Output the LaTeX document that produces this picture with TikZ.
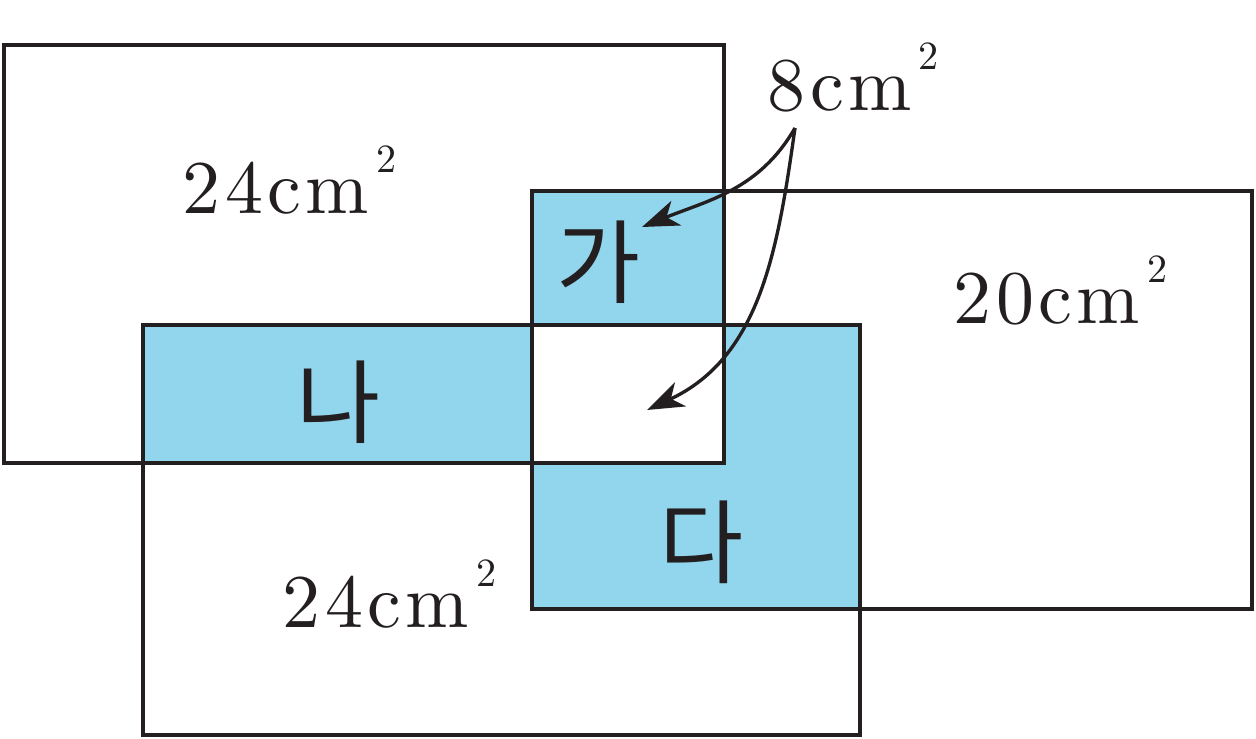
\documentclass[tikz,border=0pt]{standalone}
\usepackage{fontspec}
\newfontfamily\kofont{Noto Sans CJK KR}
\newfontfamily\numfont{lmroman10-regular.otf}[LetterSpace=6]
\usetikzlibrary{arrows.meta}
\definecolor{ink}{RGB}{35,31,32}
\definecolor{cellblue}{RGB}{146,214,237}
\newcommand{\cmsq}{cm\hspace{0.07cm}\raisebox{0.4cm}{\fontsize{11.4}{12}\selectfont 2}}
\begin{document}
\begin{tikzpicture}[x=0.01cm, y=-0.01cm,
    box/.style={draw=ink, line width=1.28pt},
    area/.style={inner sep=0pt, anchor=base west, text=ink,
      font=\numfont\fontsize{21.6}{26}\selectfont},
    cell/.style={inner sep=0pt, text=ink, font=\fontsize{26}{30}\selectfont\kofont},
    pointer/.style={draw=ink, line width=0.95pt, -{Stealth[length=10.5pt,width=7.5pt,inset=3pt]}}]
    \useasboundingbox (0,0) rectangle (1256,739);

    % shaded parts
    \fill[cellblue] (532,191) rectangle (724,325);
    \fill[cellblue] (143,325) rectangle (532,463);
    \fill[cellblue] (532,463) rectangle (860,609);
    \fill[cellblue] (724,325) rectangle (860,463);

    % three rectangles
    \draw[box] (4,45)    rectangle (724,463);
    \draw[box] (532,191) rectangle (1252,609);
    \draw[box] (143,325) rectangle (860,735);

    \node[area] (a1) at (182,213) {24\cmsq};
    \node[area] (a2) at (953,323) {20\cmsq};
    \node[area] (a3) at (282,627) {24\cmsq};
    \node[area] (a8) at (767,110) {8\cmsq};

    \node[cell] (ga) at (599,262) {가};
    \node[cell] (na) at (339,402) {나};
    \node[cell] (da) at (702,542) {다};

    \coordinate (src) at (795,128);
    \coordinate (t1)  at (642,227);
    \coordinate (t2)  at (647,410);

    \draw[pointer] (src) to[out=240,in=22] (t1);
    \draw[pointer] (src) to[out=262,in=25] (t2);

  \end{tikzpicture}
\end{document}
